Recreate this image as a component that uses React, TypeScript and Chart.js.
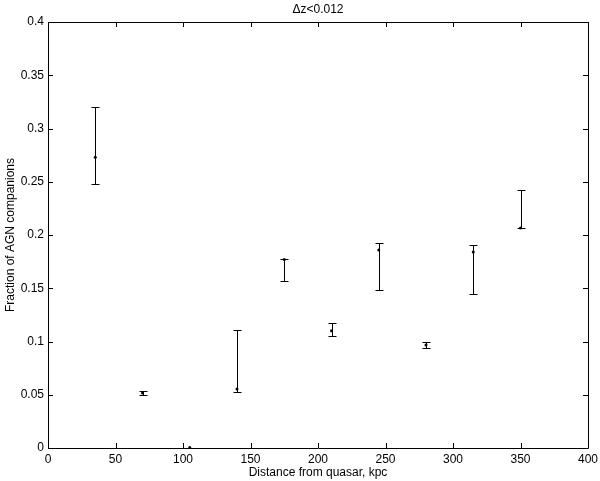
import { useEffect, useRef } from "react";
import { Chart, registerables } from "chart.js";

Chart.register(...registerables);

const distances = [35, 70, 105, 140, 175, 210, 245, 280, 315, 350];
const fractions = [0.273, 0.0516, 0.0005, 0.0554, 0.177, 0.110, 0.186, 0.0967, 0.184, 0.2066];
const upperBounds = [0.320, 0.0535, 0, 0.1108, 0.1775, 0.117, 0.1925, 0.0995, 0.1906, 0.2423];
const lowerBounds = [0.248, 0.0495, 0, 0.0526, 0.157, 0.105, 0.148, 0.094, 0.1446, 0.2066];
const xTicks = [0, 50, 100, 150, 200, 250, 300, 350, 400];
const yTicks = [0, 0.05, 0.1, 0.15, 0.2, 0.25, 0.3, 0.35, 0.4];
const titleText = "\u0394z<0.012";
const xTitle = "Distance from quasar, kpc";
const yTitle = "Fraction of AGN companions";

const FONT = "'Liberation Sans', Arial, Helvetica, sans-serif";

const matlabPlugin = {
  id: "matlabBox",
  afterDatasetsDraw(chart: any) {
    const { ctx, chartArea, scales } = chart;
    const xs = scales.x;
    const ys = scales.y;
    const { left, right, top, bottom } = chartArea;
    ctx.save();
    ctx.strokeStyle = "#000";
    ctx.lineWidth = 1;
    const cap = 4;
    for (let i = 0; i < distances.length; i++) {
      const px = Math.round(xs.getPixelForValue(distances[i])) + 0.5;
      const pu = Math.round(ys.getPixelForValue(upperBounds[i])) + 0.5;
      const pl = Math.round(ys.getPixelForValue(lowerBounds[i])) + 0.5;
      ctx.beginPath();
      ctx.moveTo(px, pu);
      ctx.lineTo(px, pl);
      ctx.moveTo(px - cap, pu);
      ctx.lineTo(px + cap, pu);
      ctx.moveTo(px - cap, pl);
      ctx.lineTo(px + cap, pl);
      ctx.stroke();
    }
    ctx.beginPath();
    ctx.rect(Math.round(left) + 0.5, Math.round(top) + 0.5, Math.round(right - left), Math.round(bottom - top));
    ctx.stroke();
    const tl = 5;
    ctx.beginPath();
    for (const v of xTicks) {
      const px = Math.round(xs.getPixelForValue(v)) + 0.5;
      ctx.moveTo(px, bottom);
      ctx.lineTo(px, bottom - tl);
      ctx.moveTo(px, top);
      ctx.lineTo(px, top + tl);
    }
    for (const v of yTicks) {
      const py = Math.round(ys.getPixelForValue(v)) + 0.5;
      ctx.moveTo(left, py);
      ctx.lineTo(left + tl, py);
      ctx.moveTo(right, py);
      ctx.lineTo(right - tl, py);
    }
    ctx.stroke();
    ctx.fillStyle = "#000";
    ctx.font = `12px ${FONT}`;
    ctx.textAlign = "center";
    ctx.textBaseline = "middle";
    ctx.fillText(titleText, (left + right) / 2, 10);
    ctx.restore();
  },
};

export default function App() {
  const ref = useRef<HTMLCanvasElement | null>(null);
  useEffect(() => {
    if (!ref.current) return;
    const chart = new Chart(ref.current, {
      type: "scatter",
      data: {
        datasets: [
          {
            data: distances.map((d, i) => ({ x: d, y: fractions[i] })),
            backgroundColor: "#000",
            borderColor: "#000",
            pointRadius: 1.5,
            pointBorderWidth: 0,
          },
        ],
      },
      options: {
        animation: false,
        responsive: false,
        maintainAspectRatio: false,
        layout: { padding: { top: 22, right: 12, left: 0, bottom: 0 } },
        plugins: {
          legend: { display: false },
          tooltip: { enabled: false },
          title: { display: false },
        },
        scales: {
          x: {
            type: "linear",
            min: 0,
            max: 400,
            afterBuildTicks: (axis: any) => {
              axis.ticks = xTicks.map((v) => ({ value: v }));
            },
            afterFit: (axis: any) => {
              axis.height = 33;
              axis.paddingLeft = 0;
              axis.paddingRight = 0;
            },
            grid: { display: false, drawTicks: false, tickLength: 0 },
            border: { display: false },
            ticks: {
              color: "#000",
              font: { family: FONT, size: 12 },
              padding: 4,
              maxRotation: 0,
              autoSkip: false,
              callback: (v: any) => String(v),
            },
            title: {
              display: true,
              text: xTitle,
              color: "#000",
              font: { family: FONT, size: 12 },
              padding: { top: 0, bottom: 1 },
            },
          },
          y: {
            type: "linear",
            min: 0,
            max: 0.4,
            afterBuildTicks: (axis: any) => {
              axis.ticks = yTicks.map((v) => ({ value: v }));
            },
            afterFit: (axis: any) => {
              axis.width = 48;
              axis.paddingTop = 0;
              axis.paddingBottom = 0;
            },
            grid: { display: false, drawTicks: false, tickLength: 0 },
            border: { display: false },
            ticks: {
              color: "#000",
              font: { family: FONT, size: 12 },
              padding: 4,
              autoSkip: false,
              callback: (v: any) => String(Number(Number(v).toFixed(2))),
            },
            title: {
              display: true,
              text: yTitle,
              color: "#000",
              font: { family: FONT, size: 12 },
              padding: { top: 3, bottom: 0 },
            },
          },
        },
      },
      plugins: [matlabPlugin],
    });
    return () => chart.destroy();
  }, []);
  return (
    <div style={{ position: "fixed", left: 0, top: 0, width: 600, height: 481, background: "#fff" }}>
      <canvas ref={ref} width={600} height={481} style={{ width: 600, height: 481, display: "block" }} />
    </div>
  );
}
